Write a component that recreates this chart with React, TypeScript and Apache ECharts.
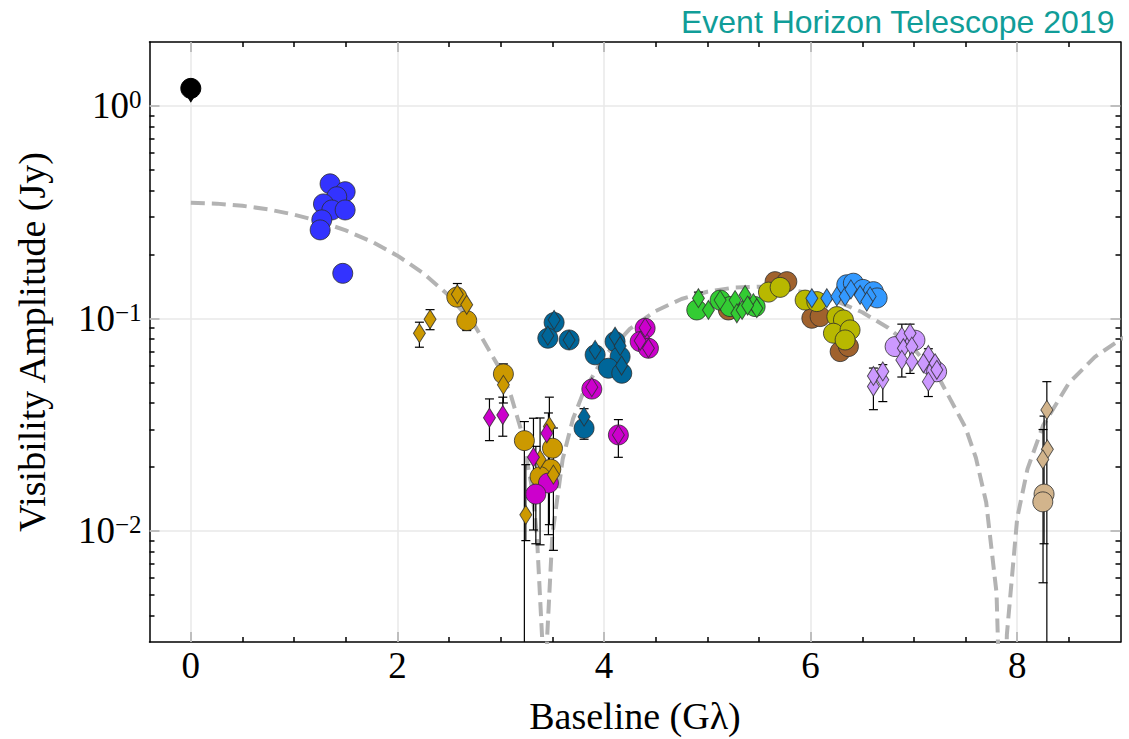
import React, { useEffect, useRef } from "react";
import * as echarts from "echarts";

// ---------- axis ticks ----------
const X_MAJOR = [0, 2, 4, 6, 8];
const X_MINOR = [0.5, 1, 1.5, 2.5, 3, 3.5, 4.5, 5, 5.5, 6.5, 7, 7.5, 8.5];
const Y_MAJOR = [0.01, 0.1, 1];
const Y_MINOR = [
  0.004, 0.005, 0.006, 0.007, 0.008, 0.009,
  0.02, 0.03, 0.04, 0.05, 0.06, 0.07, 0.08, 0.09,
  0.2, 0.3, 0.4, 0.5, 0.6, 0.7, 0.8, 0.9,
];

// ---------- model curve ----------
const modelCurve: number[][] = [
  [0, 0.35], [0.25, 0.347], [0.5, 0.339], [0.75, 0.326], [1, 0.308], [1.25, 0.286],
  [1.5, 0.2595], [1.75, 0.23], [2, 0.1975], [2.25, 0.1634], [2.5, 0.128], [2.75, 0.0923],
  [3, 0.057], [3.1, 0.0432], [3.2, 0.0295], [3.3, 0.0162], [3.35, 0.0096], [3.4, 0.0032],
  [3.425, 0.0005], [3.45, 0.0032], [3.5, 0.0096], [3.6, 0.0218], [3.7, 0.0337], [3.8, 0.0449],
  [4, 0.066], [4.25, 0.0892], [4.5, 0.1084], [4.75, 0.1235], [5, 0.1336], [5.25, 0.1395],
  [5.5, 0.141], [5.75, 0.1381], [6, 0.1312], [6.25, 0.1206], [6.5, 0.1069], [6.75, 0.0904],
  [7, 0.0719], [7.25, 0.0516], [7.5, 0.0306], [7.6, 0.0221], [7.7, 0.0136], [7.8, 0.0051],
  [7.86, 0.0005], [7.9, 0.00325], [8, 0.0115], [8.1, 0.0196], [8.25, 0.0313], [8.5, 0.0496],
  [8.75, 0.0658], [9, 0.0797], [9.1, 0.0845],
];

// ---------- data points [baseline, amplitude] ----------
const blackCircles = [[0, 1.21]];
const blackDiamonds = [[0, 1.16]];

const blueCircles = [
  [1.348, 0.43], [1.494, 0.395], [1.413, 0.374], [1.284, 0.346], [1.365, 0.324],
  [1.494, 0.324], [1.268, 0.291], [1.252, 0.261], [1.471, 0.163],
];
const blueDiamonds = [[1.348, 0.42], [1.284, 0.34]];

const goldCircles = [
  [2.575, 0.126], [2.671, 0.0977], [3.026, 0.0548], [3.229, 0.0266], [3.501, 0.0245],
  [3.485, 0.0195], [3.381, 0.018],
];
const goldDiamonds = [
  [2.213, 0.0852], [2.316, 0.0991], [2.58, 0.13], [2.671, 0.116], [3.026, 0.0487],
  [3.243, 0.0119], [3.381, 0.0217], [3.471, 0.031], [3.51, 0.0184],
];

const magentaCircles = [
  [3.462, 0.0168], [3.34, 0.0149], [3.882, 0.0465], [4.139, 0.0283], [4.398, 0.0899],
  [4.35, 0.0778], [4.43, 0.0724],
];
const magentaDiamonds = [
  [2.891, 0.0341], [3.02, 0.0351], [3.317, 0.0222], [3.446, 0.0288], [3.882, 0.0475],
  [4.139, 0.0283], [4.398, 0.0905], [4.35, 0.0785], [4.43, 0.0724],
];

const tealCircles = [
  [3.517, 0.0957], [3.456, 0.0807], [3.662, 0.0792], [3.914, 0.0674], [4.107, 0.0778],
  [4.156, 0.0661], [4.043, 0.0583], [4.172, 0.0552], [3.807, 0.0304],
];
const tealDiamonds = [
  [3.517, 0.0985], [3.456, 0.083], [3.662, 0.0792], [3.914, 0.0711], [4.107, 0.082],
  [4.156, 0.0742], [4.17, 0.06], [3.807, 0.0345],
];

const greenCircles = [
  [4.898, 0.1096], [5.124, 0.122], [5.221, 0.1137], [5.463, 0.1137],
];
const greenDiamonds = [
  [4.914, 0.1245], [5.011, 0.1096], [5.124, 0.122], [5.269, 0.122], [5.366, 0.129],
  [5.286, 0.1057], [5.446, 0.118], [5.479, 0.1117], [5.337, 0.1096], [5.39, 0.115],
];

const brownCircles = [
  [5.204, 0.1096], [5.656, 0.149], [5.77, 0.149], [6.012, 0.1002], [6.092, 0.102],
  [6.286, 0.0698], [6.366, 0.0737],
];
const oliveCircles = [
  [5.592, 0.133], [5.705, 0.14], [5.947, 0.122], [6.06, 0.12], [6.254, 0.102],
  [6.318, 0.0984], [6.221, 0.0852], [6.382, 0.0883], [6.334, 0.0792],
];

const skyCircles = [
  [6.35, 0.144], [6.414, 0.1465], [6.508, 0.137], [6.608, 0.1337], [6.644, 0.1249],
];
const skyDiamonds = [
  [6.012, 0.1245], [6.157, 0.1245], [6.254, 0.127], [6.334, 0.127], [6.479, 0.129],
  [6.576, 0.127], [6.544, 0.12], [6.39, 0.137],
];

const lavenderCircles = [
  [6.818, 0.0737], [7.01, 0.079], [7.16, 0.0604], [7.22, 0.0561],
];
const lavenderDiamonds = [
  [6.608, 0.0478], [6.608, 0.0536], [6.699, 0.0514], [6.699, 0.0563], [6.883, 0.0821],
  [6.963, 0.0852], [6.898, 0.0724], [6.98, 0.0737], [6.883, 0.0638], [6.98, 0.0626],
  [7.14, 0.0673], [7.205, 0.0615], [7.14, 0.0504], [7.092, 0.0615], [7.222, 0.0573],
];

const tanCircles = [[8.26, 0.0149], [8.248, 0.0137]];
const tanDiamonds = [[8.287, 0.0371], [8.292, 0.0242], [8.248, 0.0217]];

// error bars [baseline, low, high]
const errorBars: number[][] = [
  [2.213, 0.0732, 0.096], [2.316, 0.0885, 0.11], [2.58, 0.118, 0.146], [2.671, 0.0877, 0.118],
  [3.026, 0.04, 0.0611], [3.229, 0.001, 0.0327], [3.243, 0.009, 0.0205], [3.381, 0.0086, 0.034],
  [3.471, 0.0107, 0.0426], [3.51, 0.0081, 0.0305], [2.891, 0.0266, 0.0418], [3.02, 0.0279, 0.0426],
  [3.317, 0.0101, 0.0339], [3.34, 0.0087, 0.025], [3.462, 0.0096, 0.0359], [4.139, 0.0222, 0.0334],
  [3.807, 0.027, 0.0376], [4.914, 0.115, 0.133], [6.608, 0.0372, 0.0584], [6.699, 0.0406, 0.0606],
  [6.883, 0.053, 0.094], [6.963, 0.0551, 0.094], [7.14, 0.0429, 0.072], [8.287, 0.001, 0.0504],
  [8.26, 0.0087, 0.0347], [8.25, 0.0057, 0.03],
];

const SERIF = "'Liberation Serif', 'Times New Roman', serif";
const EDGE = "rgba(45,45,45,0.8)";

function circles(data: number[][], color: string, z = 4, edge = EDGE) {
  return {
    type: "scatter", data, symbol: "circle", symbolSize: 20, z,
    itemStyle: { color, borderColor: edge, borderWidth: 1, opacity: 1 },
  };
}
function diamonds(data: number[][], color: string, z = 5, edge = EDGE) {
  return {
    type: "scatter", data, symbol: "diamond", symbolSize: [12, 19], z,
    itemStyle: { color, borderColor: edge, borderWidth: 1, opacity: 1 },
  };
}

const RANGE_X = { min: -0.4, max: 9 };
const RANGE_Y = { min: 0.003, max: 2 };

function xAxisDef(position: string, ticks: number[], len: number, labels: boolean, line: boolean) {
  return {
    type: "value", position, ...RANGE_X,
    axisLine: { show: line, onZero: false, lineStyle: { color: "#000", width: 1.5 } },
    axisTick: { show: true, inside: true, length: len, customValues: ticks, lineStyle: { color: "#000", width: 1.5 } },
    axisLabel: labels
      ? { show: true, customValues: ticks, fontFamily: SERIF, fontSize: 37, color: "#000", margin: 5 }
      : { show: false },
    splitLine: { show: false },
  };
}
function yAxisDef(position: string, ticks: number[], len: number, labels: boolean, line: boolean) {
  return {
    type: "log", logBase: 10, position, ...RANGE_Y,
    axisLine: { show: line, onZero: false, lineStyle: { color: "#000", width: 1.5 } },
    axisTick: { show: true, inside: true, length: len, customValues: ticks, lineStyle: { color: "#000", width: 1.5 } },
    axisLabel: labels
      ? {
          show: true, customValues: ticks, margin: 8,
          formatter: (v: number) => {
            const e = Math.round(Math.log10(v));
            const s = e < 0 ? "\u2212" + String(-e) : String(e);
            return "{b|10}{s|" + s + "}";
          },
          rich: {
            b: { fontFamily: SERIF, fontSize: 37, lineHeight: 37, color: "#000", verticalAlign: "bottom" },
            s: { fontFamily: SERIF, fontSize: 25, lineHeight: 25, color: "#000", verticalAlign: "top", padding: [0, 0, 18, 0] },
          },
        }
      : { show: false },
    splitLine: { show: false },
  };
}

export default function App() {
  const ref = useRef<HTMLDivElement>(null);
  useEffect(() => {
    if (!ref.current) return;
    const chart = echarts.init(ref.current, undefined, { renderer: "svg" });
    const bottomMajor: any = xAxisDef("bottom", X_MAJOR, 10, true, true);
    bottomMajor.name = "Baseline (G\u03bb)";
    bottomMajor.nameLocation = "middle";
    bottomMajor.nameGap = 55;
    bottomMajor.nameTextStyle = { fontFamily: SERIF, fontSize: 38, color: "#000" };
    const leftMajor: any = yAxisDef("left", Y_MAJOR, 10, true, true);
    leftMajor.name = "Visibility Amplitude (Jy)";
    leftMajor.nameLocation = "middle";
    leftMajor.nameGap = 99;
    leftMajor.nameRotate = 90;
    leftMajor.nameTextStyle = { fontFamily: SERIF, fontSize: 38, color: "#000" };

    const option: any = {
      animation: false,
      backgroundColor: "#fff",
      title: {
        text: "Event Horizon Telescope 2019", right: 9, top: 1,
        textStyle: { color: "#109d98", fontFamily: "'Liberation Sans', Arial, sans-serif", fontSize: 32, fontWeight: "normal" },
      },
      grid: { left: 149.5, top: 42, width: 971, height: 600, containLabel: false, outerBoundsMode: "none" },
      xAxis: [
        bottomMajor,
        xAxisDef("bottom", X_MINOR, 5, false, false),
        xAxisDef("top", X_MAJOR, 10, false, true),
        xAxisDef("top", X_MINOR, 5, false, false),
      ],
      yAxis: [
        leftMajor,
        yAxisDef("left", Y_MINOR, 5, false, false),
        yAxisDef("right", Y_MAJOR, 10, false, true),
        yAxisDef("right", Y_MINOR, 5, false, false),
      ],
      series: [
        {
          type: "line", data: modelCurve, symbol: "none", z: 2, clip: true,
          lineStyle: { color: "#b3b3b3", width: 4, type: [14, 7] },
          markLine: {
            silent: true, z: 1, symbol: ["none", "none"], label: { show: false },
            lineStyle: { color: "#e8e8e8", width: 1.5, type: "solid" },
            data: [
              ...X_MAJOR.map((v) => ({ xAxis: v })),
              ...Y_MAJOR.map((v) => ({ yAxis: v })),
            ],
          },
        },
        {
          type: "custom", data: errorBars, z: 3, clip: false,
          encode: { x: 0, y: [1, 2] },
          renderItem: (params: any, api: any) => {
            const x = api.value(0), lo = api.value(1), hi = api.value(2);
            const pt = api.coord([x, hi]);
            const pb = api.coord([x, lo]);
            const cs = params.coordSys;
            const yTop = Math.max(pt[1], cs.y);
            const yBot = Math.min(pb[1], cs.y + cs.height);
            const st = { stroke: "#000", lineWidth: 1.2 };
            const ch: any[] = [
              { type: "line", shape: { x1: pt[0], y1: yTop, x2: pt[0], y2: yBot }, style: st },
            ];
            if (pt[1] >= cs.y) ch.push({ type: "line", shape: { x1: pt[0] - 4.5, y1: pt[1], x2: pt[0] + 4.5, y2: pt[1] }, style: st });
            if (pb[1] <= cs.y + cs.height) ch.push({ type: "line", shape: { x1: pb[0] - 4.5, y1: pb[1], x2: pb[0] + 4.5, y2: pb[1] }, style: st });
            return { type: "group", children: ch };
          },
        },
        circles(blackCircles, "#000", 4, "#000"),
        diamonds(blackDiamonds, "#000", 3, "#000"),
        diamonds(blueDiamonds, "#3333ff", 4),
        circles(blueCircles, "#3333ff", 5),
        circles(goldCircles, "#cc9900"),
        diamonds(goldDiamonds, "#cc9900"),
        circles(magentaCircles, "#cc00cc"),
        diamonds(magentaDiamonds, "#cc00cc"),
        circles(tealCircles, "#006699"),
        diamonds(tealDiamonds, "#006699"),
        circles(brownCircles, "#a0622d", 4),
        circles(greenCircles, "#33cc33", 5),
        diamonds(greenDiamonds, "#33cc33", 6),
        circles(oliveCircles, "#b8b800", 5),
        circles(skyCircles, "#3399ff", 6),
        diamonds(skyDiamonds, "#3399ff", 7),
        circles(lavenderCircles, "#cc99ff"),
        diamonds(lavenderDiamonds, "#cc99ff"),
        circles(tanCircles, "#d2b48c"),
        diamonds(tanDiamonds, "#d2b48c"),
      ],
    };
    chart.setOption(option);
    return () => chart.dispose();
  }, []);
  return (
    <div
      ref={ref}
      style={{ position: "absolute", left: 0, top: 0, width: 1129, height: 739, background: "#fff" }}
    />
  );
}
